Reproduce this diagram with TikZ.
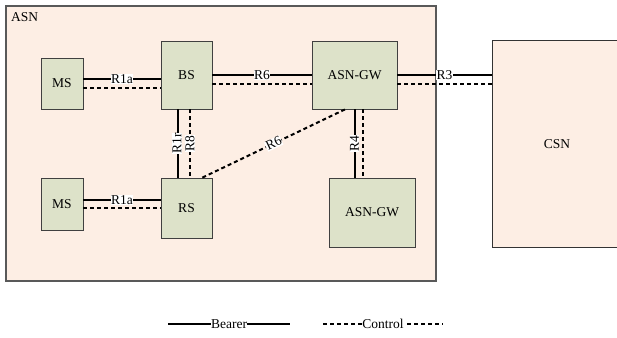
\documentclass[tikz,border=0pt]{standalone}
\usepackage{fontspec}
\setmainfont{Liberation Serif}
\usepackage{tikz}
\definecolor{asnbg}{RGB}{253,238,228}
\definecolor{unitgreen}{RGB}{221,226,201}
\tikzstyle{area} = [rectangle, draw=black!65, line width=1.2pt, fill=asnbg]
\tikzstyle{unit} = [rectangle, draw=black!75, line width=0.8pt, fill=unitgreen, inner sep=0pt]
\tikzstyle{bearer} = [line width=2pt]
\tikzstyle{control} = [line width=2pt, dash pattern=on 4pt off 3pt]
\tikzstyle{tag} = [fill=white, inner sep=0.5pt]

\begin{document}
\begin{tikzpicture}[x=1pt, y=-1pt, font=\fontsize{13.5}{16}\selectfont]
			\useasboundingbox (0,0) rectangle (617,337);
			\fill[white] (0,0) rectangle (617,337);
			\node [area, minimum width=430pt, minimum height=275pt] (asn) at (221,143.5) {};
			\node [anchor=north west, inner sep=0pt] (asnlabel) at (11,12) {ASN};
			\node [area, line width=1pt, draw=black!80, minimum width=130pt, minimum height=206pt] (csn) at (557,144) {CSN};
			\node [unit, minimum width=42pt, minimum height=51pt] (msa) at (62,83.5) {MS};
			\node [unit, minimum width=51pt, minimum height=68pt] (bs) at (186.5,75) {BS};
			\node [unit, minimum width=85pt, minimum height=68pt] (gwa) at (354.5,75) {ASN-GW};
			\node [unit, minimum width=42pt, minimum height=52pt] (msb) at (62,204) {MS};
			\node [unit, minimum width=51pt, minimum height=60pt] (rs) at (186.5,208) {RS};
			\node [unit, minimum width=86pt, minimum height=69pt] (gwb) at (372,212.5) {ASN-GW};
			% MS - BS
			\draw [bearer] ([yshift=4.5pt]msa.east) -- node [tag] {R1a} ([yshift=4.5pt]msa.east -| bs.west);
			\draw [control] ([yshift=-4.5pt]msa.east) -- ([yshift=-4.5pt]msa.east -| bs.west);
			% MS - RS
			\draw [bearer] ([yshift=4pt]msb.east) -- node [tag] {R1a} ([yshift=4pt]msb.east -| rs.west);
			\draw [control] ([yshift=-4pt]msb.east) -- ([yshift=-4pt]msb.east -| rs.west);
			% BS - ASN-GW - CSN
			\draw [bearer] (bs.east) -- node [tag] {R6} (gwa.west);
			\draw [control] ([yshift=-9pt]bs.east) -- ([yshift=-9pt]gwa.west);
			\draw [bearer] (gwa.east) -- node [tag, pos=0.5] {R3} (gwa.east -| csn.west);
			\draw [control] ([yshift=-9pt]gwa.east) -- ([yshift=-9pt]gwa.east -| csn.west);
			% BS - RS
			\draw [bearer] ([xshift=-8.5pt]bs.south) -- node [tag, rotate=90, yshift=1pt] {R1r} ([xshift=-8.5pt]rs.north);
			\draw [control] ([xshift=3.5pt]bs.south) -- node [tag, rotate=90] {R8} ([xshift=3.5pt]rs.north);
			% RS - ASN-GW
			\draw [control] ([xshift=-10pt]rs.north east) -- node [tag, sloped] {R6} ([xshift=-9.5pt]gwa.south);
			% ASN-GW - ASN-GW
			\draw [bearer] (gwa.south) -- node [tag, rotate=90] {R4} (gwa.south |- gwb.north);
			\draw [control] ([xshift=8.5pt]gwa.south) -- ([xshift=8.5pt]gwa.south |- gwb.north);
			% legend
			\coordinate (ba) at (168,324);
			\coordinate (bb) at (290,324);
			\coordinate (ca) at (323,324);
			\coordinate (cb) at (443,324);
			\draw [bearer] (ba) -- node [tag] {Bearer} (bb);
			\draw [control] (ca) -- node [tag] {Control} (cb);
		\end{tikzpicture}
\end{document}
